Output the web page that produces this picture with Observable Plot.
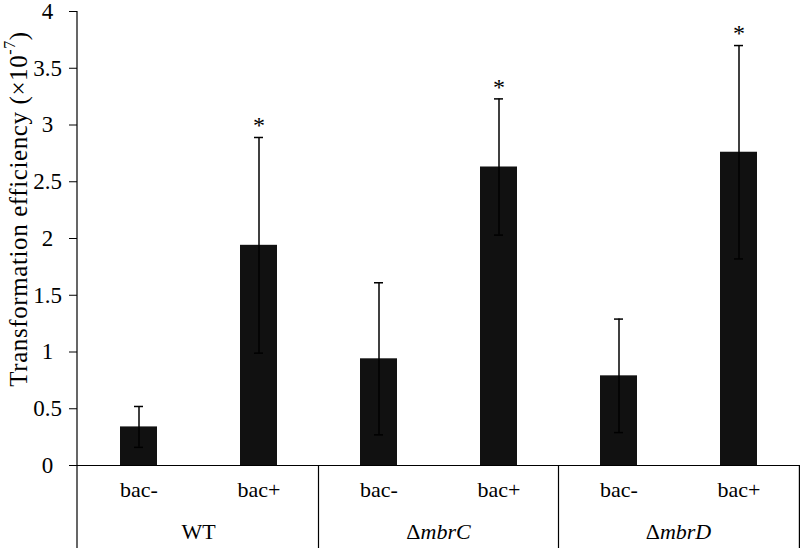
<!DOCTYPE html>
<html><head><meta charset="utf-8">
<script src="https://cdn.jsdelivr.net/npm/d3@7"></script>
<script src="https://cdn.jsdelivr.net/npm/@observablehq/plot@0.6"></script>
<style>body{margin:0;background:#fff} svg{display:block}</style>
</head><body><div id="chart"></div>
<script>
const groups = ["WT", "ΔmbrC", "ΔmbrD"];
const treatments = ["bac-", "bac+"];
const means = [0.34, 1.94, 0.94, 2.63, 0.79, 2.76];
const errors = [0.18, 0.95, 0.67, 0.60, 0.50, 0.94];
const significant = [false, true, false, true, false, true];
const yTicks = [0, 0.5, 1, 1.5, 2, 2.5, 3, 3.5, 4];
const yLabel = ["Transformation efficiency (×10", "-7", ")"];

const data = means.map((m, i) => ({
  key: groups[Math.floor(i / 2)] + " " + treatments[i % 2],
  group: groups[Math.floor(i / 2)],
  treat: treatments[i % 2],
  mean: m, err: errors[i], sig: significant[i]
}));
const keys = data.map(d => d.key);
const FONT = "'Liberation Serif', 'Times New Roman', serif";

function decorations(index, scales, values, dims) {
  const x = scales.x, y = scales.y;
  const bw = typeof x.bandwidth === "function" ? x.bandwidth() : x.bandwidth;
  const left = dims.marginLeft, right = dims.width - dims.marginRight;
  const y0 = y(0);
  const g = d3.create("svg:g").attr("fill", "none").attr("stroke", "#000").attr("stroke-width", 1.2);
  g.append("line").attr("x1", left).attr("x2", left).attr("y1", y(4)).attr("y2", dims.height);
  const bounds = [];
  for (let gi = 1; gi < groups.length; gi++) {
    bounds.push((x(keys[gi * 2 - 1]) + bw + x(keys[gi * 2])) / 2);
  }
  bounds.push(right - 0.6);
  for (const b of bounds) {
    g.append("line").attr("x1", b).attr("x2", b).attr("y1", y0).attr("y2", dims.height);
  }
  const t = g.append("g").attr("stroke", "none").attr("fill", "#000")
    .attr("font-size", 22).attr("text-anchor", "middle");
  groups.forEach((name, gi) => {
    const cx = (x(keys[gi * 2]) + x(keys[gi * 2 + 1]) + bw) / 2;
    const txt = t.append("text").attr("x", cx).attr("y", y0 + 66).attr("dy", "0.35em");
    if (name.startsWith("Δ")) {
      txt.append("tspan").text("Δ");
      txt.append("tspan").attr("font-style", "italic").text(name.slice(1));
    } else txt.text(name);
  });
  const yl = t.append("text").attr("transform", `translate(18,${(y(4) + y0) / 2 - 29}) rotate(-90)`)
    .attr("dy", "0.35em").attr("font-size", 25).attr("letter-spacing", 0.6);
  yl.append("tspan").text(yLabel[0]);
  yl.append("tspan").attr("font-size", 16).attr("dy", "-0.75em").text(yLabel[1]);
  yl.append("tspan").attr("dy", "0.48em").text(yLabel[2]);
  return g.node();
}

const chart = Plot.plot({
  width: 800, height: 548,
  marginLeft: 77, marginRight: 0, marginTop: 11, marginBottom: 83,
  style: {fontFamily: FONT, color: "#000", background: "#fff"},
  x: {domain: keys, paddingInner: 0.693, paddingOuter: 0.346, axis: null},
  y: {domain: [0, 4], axis: null},
  marks: [
    Plot.barY(data, {x: "key", y: "mean", fill: "#111"}),
    Plot.ruleX(data, {x: "key", y1: d => d.mean - d.err, y2: d => d.mean + d.err, stroke: "#000", strokeWidth: 1.5}),
    Plot.tickY(data, {x: "key", y: d => d.mean + d.err, insetLeft: 14, insetRight: 14, stroke: "#000", strokeWidth: 1.5}),
    Plot.tickY(data, {x: "key", y: d => d.mean - d.err, insetLeft: 14, insetRight: 14, stroke: "#000", strokeWidth: 1.5}),
    Plot.text(data.filter(d => d.sig), {x: "key", y: d => d.mean + d.err, text: () => "*", dy: -12, fontSize: 24, fill: "#000"}),
    Plot.axisY({ticks: yTicks, tickFormat: d => String(d), tickSize: 8, tickPadding: 22, textAnchor: "middle", fontSize: 23, label: null, stroke: "#000", fill: "#000"}),
    Plot.ruleY([0], {stroke: "#000", strokeWidth: 1.2}),
    Plot.text(data, {x: "key", text: "treat", frameAnchor: "bottom", dy: 31, fontSize: 22, fill: "#000"}),
    decorations
  ]
});
document.getElementById("chart").appendChild(chart);
</script>
</body></html>
